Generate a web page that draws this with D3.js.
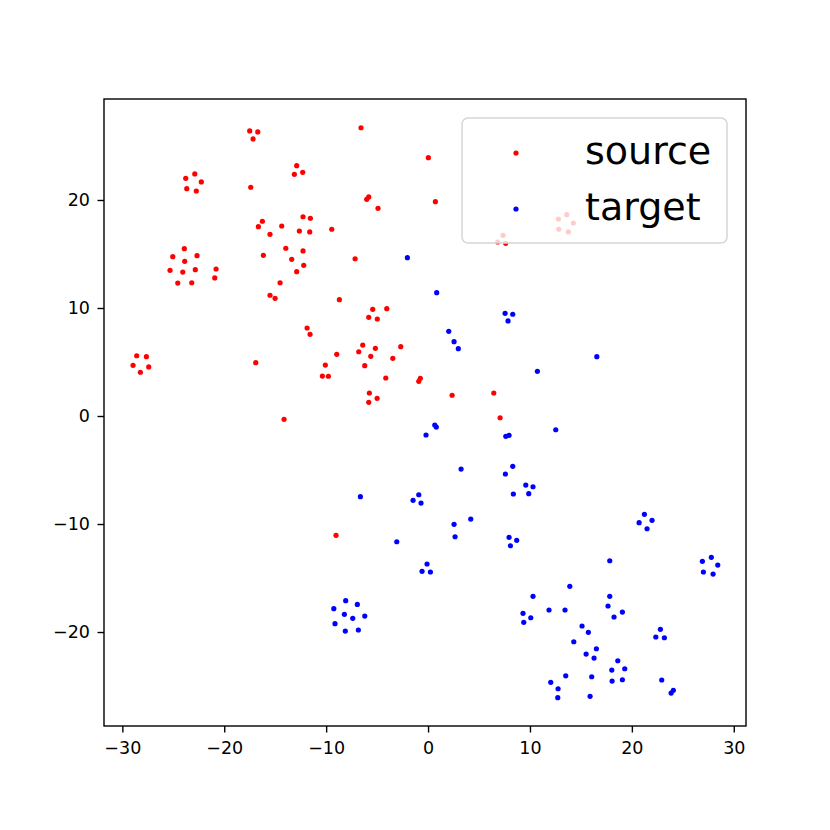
<!DOCTYPE html>
<html>
<head>
<meta charset="utf-8">
<script src="https://cdn.jsdelivr.net/npm/d3@7"></script>
<style>
  body { margin: 0; background: #fff; }
  text { font-family: "DejaVu Sans", sans-serif; }
</style>
</head>
<body>
<svg id="chart" width="830" height="830"></svg>
<script>

// t-SNE style embedding
const sourceX = [-17.50,-16.71,-17.17,-12.89,-12.30,-13.12,-23.78,-22.89,-22.25,-23.68,
  -22.74,-17.40,-12.27,-11.55,-16.26,-16.65,-14.36,-12.63,-11.61,-15.51,
  -23.92,-13.96,-12.27,-25.05,-22.67,-16.16,-23.88,-13.38,-12.20,-25.32,
  -24.07,-22.84,-20.80,-12.89,-20.93,-24.56,-23.19,-14.52,-15.51,-15.01,
  -6.58,0.03,-6.02,-5.82,-4.91,0.72,-9.45,-7.16,7.36,6.84,
  7.62,-8.70,13.61,14.26,12.79,12.83,13.77,-28.59,-27.64,-28.95,
  -27.41,-28.23,-11.87,-11.58,-16.91,-14.13,-5.43,-4.05,-5.82,-4.98,
  -6.41,-5.17,-6.80,-2.68,-8.96,-5.62,-3.46,-10.08,-6.21,-10.37,
  -9.78,-4.15,-0.76,-0.91,-5.76,-5.00,-5.82,2.36,6.45,7.07,
  -9.03];
const sourceY = [26.39,26.30,25.65,23.18,22.56,22.38,22.01,22.41,21.67,21.05,
  20.83,21.18,18.45,18.31,18.03,17.53,17.59,17.13,17.04,16.82,
  15.49,15.53,15.28,14.75,14.84,14.88,14.32,14.51,13.95,13.49,
  13.33,13.55,13.61,13.36,12.78,12.31,12.34,12.34,11.18,10.90,
  26.69,23.92,20.06,20.28,19.23,19.84,17.29,14.56,16.73,16.11,
  15.99,10.77,18.64,17.87,18.24,17.29,17.04,5.58,5.49,4.69,
  4.54,4.05,8.15,7.56,4.94,-0.31,9.88,9.94,9.14,8.98,
  6.57,6.27,5.95,6.42,5.71,5.53,5.34,4.72,4.66,3.70,
  3.68,3.52,3.49,3.21,2.13,1.64,1.27,1.92,2.13,-0.16,
  -11.05];

const targetX = [-2.03,0.85,7.56,8.31,7.85,2.03,2.55,2.97,0.66,0.81,
  -0.20,7.63,7.95,3.24,8.31,7.59,9.59,10.30,8.37,9.88,
  -6.64,-0.91,-1.47,-0.69,16.56,10.73,12.53,-3.07,2.55,4.19,
  2.65,7.95,8.70,8.08,-0.10,-0.59,0.23,-8.08,-6.94,-9.25,
  -8.21,-7.39,-6.21,-9.13,-8.12,-6.84,9.32,9.39,21.23,21.98,
  20.71,21.49,17.83,26.92,27.80,28.43,27.02,27.97,13.91,10.30,
  17.83,11.87,13.44,17.66,19.07,18.25,10.08,15.11,15.73,14.30,
  16.52,15.51,16.29,22.80,22.35,23.19,18.62,18.03,19.30,18.06,
  19.07,13.51,16.06,12.04,12.76,12.73,15.90,22.93,24.07,23.85];
const targetY = [14.66,11.42,9.51,9.42,8.80,7.84,6.88,6.23,-0.83,-1.02,
  -1.76,-1.88,-1.79,-4.91,-4.66,-5.37,-6.39,-6.55,-7.22,-7.19,
  -7.47,-7.29,-7.81,-8.06,5.49,4.14,-1.27,-11.64,-10.03,-9.54,
  -11.18,-11.23,-11.51,-12.01,-13.70,-14.38,-14.44,-17.10,-17.44,-17.84,
  -18.36,-18.73,-18.52,-19.23,-19.91,-19.81,-18.27,-19.10,-9.10,-9.66,
  -9.88,-10.44,-13.40,-13.45,-13.08,-13.80,-14.44,-14.63,-15.77,-16.69,
  -16.69,-17.96,-17.96,-17.59,-18.15,-18.61,-18.68,-19.44,-20.03,-20.90,
  -21.55,-22.04,-22.41,-19.75,-20.46,-20.53,-22.66,-23.52,-23.40,-24.54,
  -24.42,-24.05,-24.14,-24.66,-25.25,-26.08,-25.95,-24.44,-25.40,-25.65];

const seriesNames = ["source", "target"];
const seriesColors = ["#ff0000", "#0000ff"];
const xTicks = [-30, -20, -10, 0, 10, 20, 30];
const yTicks = [-20, -10, 0, 10, 20];

const margin = {top: 99, right: 84, bottom: 104, left: 104};
const W = 830, H = 830;
const width = W - margin.left - margin.right;
const height = H - margin.top - margin.bottom;

const x = d3.scaleLinear().domain([-31.8, 31.2]).range([0, width]);
const y = d3.scaleLinear().domain([-28.7, 29.35]).range([height, 0]);

const svg = d3.select("#chart");
const g = svg.append("g").attr("transform", `translate(${margin.left},${margin.top})`);

g.append("clipPath").attr("id", "clip")
  .append("rect").attr("width", width).attr("height", height);

const series = [
  {xs: sourceX, ys: sourceY},
  {xs: targetX, ys: targetY}
];

const plot = g.append("g").attr("clip-path", "url(#clip)");
series.forEach((s, i) => {
  plot.append("g")
    .selectAll("circle")
    .data(s.xs.map((v, j) => [v, s.ys[j]]))
    .join("circle")
      .attr("cx", d => x(d[0]))
      .attr("cy", d => y(d[1]))
      .attr("r", 2.6)
      .attr("fill", seriesColors[i]);
});

// axes
const xAxis = g.append("g")
  .attr("transform", `translate(0,${height})`)
  .call(d3.axisBottom(x).tickValues(xTicks).tickSize(6.5).tickSizeOuter(0).tickPadding(9));
const yAxis = g.append("g")
  .call(d3.axisLeft(y).tickValues(yTicks).tickSize(6.5).tickSizeOuter(0).tickPadding(7.5));

[xAxis, yAxis].forEach(a => {
  a.select(".domain").remove();
  a.selectAll("line").attr("stroke", "#000").attr("stroke-width", 1.4);
  a.selectAll("text").attr("font-size", 17.5).attr("fill", "#000")
    .style("font-family", "'DejaVu Sans', sans-serif");
});

g.append("rect")
  .attr("width", width).attr("height", height)
  .attr("fill", "none").attr("stroke", "#000").attr("stroke-width", 1.4);

// legend
const lg = g.append("g").attr("transform", `translate(${462 - margin.left},${118 - margin.top})`);
lg.append("rect")
  .attr("width", 265).attr("height", 125)
  .attr("rx", 6).attr("ry", 6)
  .attr("fill", "#fff").attr("fill-opacity", 0.8)
  .attr("stroke", "#d6d6d6").attr("stroke-width", 1.5);

seriesNames.forEach((name, i) => {
  const row = lg.append("g").attr("transform", `translate(0,${35 + i * 56})`);
  row.append("circle").attr("cx", 54).attr("cy", 0).attr("r", 2.6).attr("fill", seriesColors[i]);
  row.append("text")
    .attr("x", 123).attr("y", -2).attr("dy", "0.35em")
    .attr("font-size", 38).attr("fill", "#000")
    .text(name);
});

</script>
</body>
</html>
